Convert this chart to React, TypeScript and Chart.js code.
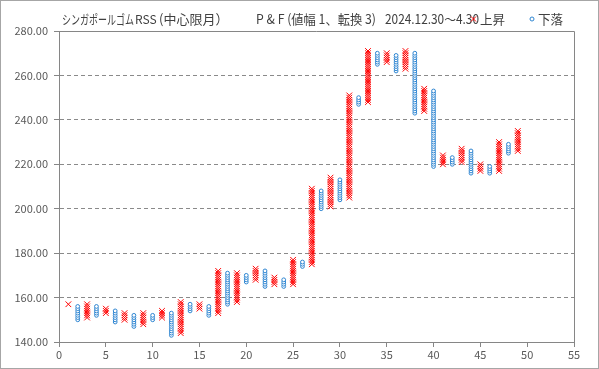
import React, { useEffect, useRef } from "react";
import { Chart, registerables } from "chart.js";

Chart.register(...registerables);

// Point & figure columns (box size 1, reversal 3)
const columns = [
  1, 2, 3, 4, 5, 6, 7, 8, 9, 10, 11, 12, 13, 14, 15, 16, 17, 18, 19, 20, 21, 22, 23, 24, 25,
  26, 27, 28, 29, 30, 31, 32, 33, 34, 35, 36, 37, 38, 39, 40, 41, 42, 43, 44, 45, 46, 47, 48, 49,
];
const colType = [
  "X", "O", "X", "O", "X", "O", "X", "O", "X", "O", "X", "O", "X", "O", "X", "O", "X", "O", "X", "O",
  "X", "O", "X", "O", "X", "O", "X", "O", "X", "O", "X", "O", "X", "O", "X", "O", "X", "O", "X", "O",
  "X", "O", "X", "O", "X", "O", "X", "O", "X",
];
const colLow = [
  157, 150, 151, 152, 153, 149, 150, 147, 148, 150, 151, 143, 144, 154, 155, 152, 153, 157, 158, 167,
  168, 165, 166, 165, 166, 174, 175, 200, 201, 204, 205, 247, 248, 265, 266, 262, 263, 243, 244, 219,
  220, 220, 221, 216, 217, 216, 217, 225, 226,
];
const colHigh = [
  157, 156, 157, 156, 155, 154, 153, 152, 153, 152, 154, 153, 158, 157, 157, 156, 172, 171, 171, 170,
  173, 172, 169, 168, 177, 176, 209, 208, 214, 213, 251, 250, 271, 270, 270, 269, 271, 270, 254, 253,
  224, 223, 227, 226, 220, 219, 230, 229, 235,
];

const yTicks = [140, 160, 180, 200, 220, 240, 260, 280];
const xTicks = [0, 5, 10, 15, 20, 25, 30, 35, 40, 45, 50, 55];
const legendLabels = ["上昇", "下落"];
const titleParts = [
  "シンガポールゴム",
  "RSS",
  "(中心限月）",
  "P & F (値幅 1、転換 3)",
  "2024.12.30～4.30",
];

const RED = "#ff0000";
const BLUE = "#2f86d2";
const AXIS = "#868686";
const GRID = "#8a8a8a";
const FONT = "'Noto Sans CJK JP', 'Noto Sans', sans-serif";

function buildPoints(kind: string) {
  const pts: { x: number; y: number }[] = [];
  columns.forEach((c, i) => {
    if (colType[i] !== kind) return;
    for (let v = colLow[i]; v <= colHigh[i]; v++) pts.push({ x: c, y: v });
  });
  return pts;
}

const decor = {
  id: "decor",
  beforeDraw(chart: any) {
    const ctx = chart.ctx;
    ctx.save();
    ctx.fillStyle = "#ffffff";
    ctx.fillRect(0, 0, chart.width, chart.height);
    ctx.restore();
  },
  afterDraw(chart: any) {
    const ctx = chart.ctx;
    const { left, right, top } = chart.chartArea;
    ctx.save();
    // plot area top & right border
    ctx.strokeStyle = AXIS;
    ctx.lineWidth = 1;
    ctx.setLineDash([]);
    ctx.beginPath();
    const ty = Math.round(top) + 0.5;
    const rx = Math.round(right) + 0.5;
    ctx.moveTo(Math.round(left), ty);
    ctx.lineTo(rx, ty);
    ctx.lineTo(rx, Math.round(chart.chartArea.bottom));
    ctx.stroke();
    // outer border
    ctx.strokeStyle = "#a6a6a6";
    ctx.strokeRect(0.5, 0.5, chart.width - 1, chart.height - 1);

    // title
    ctx.fillStyle = "#404040";
    ctx.textBaseline = "middle";
    ctx.textAlign = "left";
    const ty2 = 19;
    const pos = [
      [62, 72, 13],
      [135, 23, 12],
      [159, 80, 13],
      [256, 120, 13],
      [385, 94, 13],
    ];
    titleParts.forEach((t, i) => {
      ctx.font = `${pos[i][2]}px ${FONT}`;
      ctx.fillText(t, pos[i][0], ty2, pos[i][1]);
    });

    // legend
    ctx.font = `13px ${FONT}`;
    ctx.fillStyle = "#404040";
    ctx.fillText(legendLabels[0], 480, ty2, 25);
    ctx.strokeStyle = RED;
    ctx.lineWidth = 1;
    ctx.beginPath();
    ctx.moveTo(471, 16.5);
    ctx.lineTo(476, 21.5);
    ctx.moveTo(476, 16.5);
    ctx.lineTo(471, 21.5);
    ctx.stroke();

    ctx.strokeStyle = BLUE;
    ctx.fillStyle = "#ffffff";
    ctx.beginPath();
    ctx.arc(532, 19, 2, 0, Math.PI * 2);
    ctx.fill();
    ctx.stroke();
    ctx.fillStyle = "#404040";
    ctx.fillText(legendLabels[1], 538, ty2, 25);
    ctx.restore();
  },
};

export default function App() {
  const ref = useRef<HTMLCanvasElement>(null);
  useEffect(() => {
    if (!ref.current) return;
    const chart = new Chart(ref.current, {
      type: "scatter",
      data: {
        datasets: [
          {
            label: legendLabels[0],
            data: buildPoints("X"),
            pointStyle: "crossRot",
            pointRadius: 4,
            pointBorderWidth: 1,
            borderColor: RED,
            backgroundColor: RED,
            pointHoverRadius: 4,
          },
          {
            label: legendLabels[1],
            data: buildPoints("O"),
            pointStyle: "circle",
            pointRadius: 1.9,
            pointBorderWidth: 1,
            borderColor: BLUE,
            backgroundColor: "#ffffff",
            pointHoverRadius: 1.9,
          },
        ],
      },
      options: {
        animation: false,
        responsive: false,
        devicePixelRatio: 1,
        layout: { padding: { top: 31, right: 25, left: 0, bottom: 0 } },
        plugins: {
          legend: { display: false },
          title: { display: false },
          tooltip: { enabled: false },
        },
        scales: {
          x: {
            type: "linear",
            min: 0,
            max: 55,
            afterBuildTicks: (s: any) => {
              s.ticks = xTicks.map((v) => ({ value: v }));
            },
            afterFit: (s: any) => {
              s.height = 27;
            },
            grid: {
              drawOnChartArea: false,
              drawTicks: true,
              tickLength: 5,
              tickColor: AXIS,
            },
            border: { color: AXIS, width: 1 },
            ticks: {
              color: "#595959",
              font: { size: 11, family: FONT },
              padding: 1,
              maxRotation: 0,
              autoSkip: false,
            },
          },
          y: {
            type: "linear",
            min: 140,
            max: 280,
            afterBuildTicks: (s: any) => {
              s.ticks = yTicks.map((v) => ({ value: v }));
            },
            afterFit: (s: any) => {
              s.width = 59;
            },
            grid: {
              color: (c: any) =>
                c.tick && (c.tick.value === 140 || c.tick.value === 280) ? "rgba(0,0,0,0)" : GRID,
              lineWidth: 1,
              drawTicks: true,
              tickLength: 5,
              tickColor: AXIS,
            },
            border: { color: AXIS, width: 1, dash: [4, 3] },
            ticks: {
              color: "#595959",
              font: { size: 11, family: FONT },
              padding: 6,
              autoSkip: false,
              callback: (v: any) => Number(v).toFixed(2),
            },
          },
        },
      } as any,
      plugins: [decor],
    });
    return () => chart.destroy();
  }, []);
  return (
    <div style={{ position: "fixed", left: 0, top: 0, width: 599, height: 369 }}>
      <canvas ref={ref} width={599} height={369} style={{ width: 599, height: 369, display: "block" }} />
    </div>
  );
}
